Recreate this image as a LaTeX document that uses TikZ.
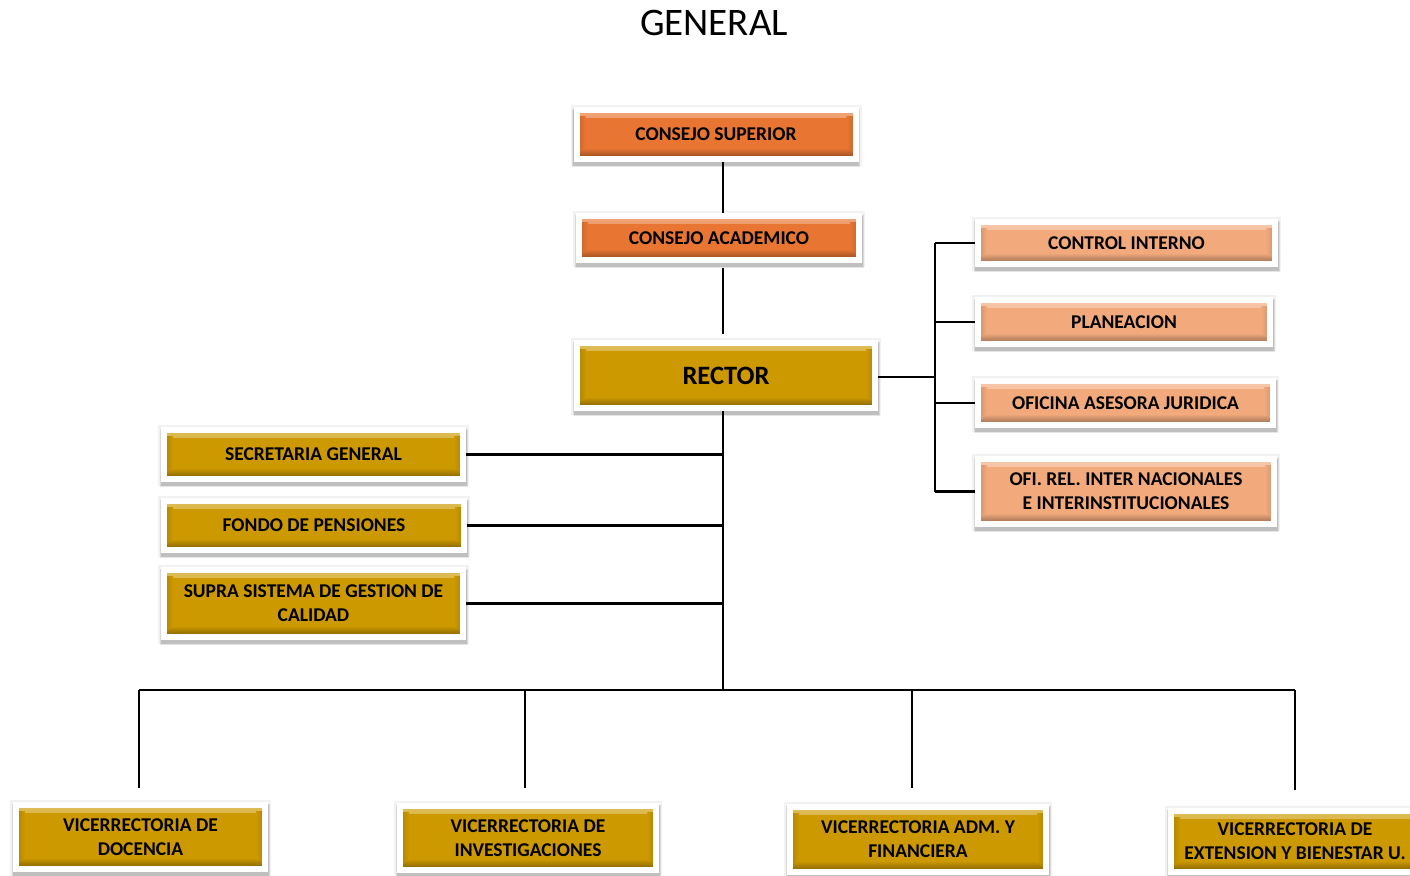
\documentclass[tikz,border=0pt]{standalone}
\usepackage{fontspec}
\setmainfont{Carlito}
\usetikzlibrary{shadows,backgrounds}
\definecolor{cOrange}{RGB}{232,118,50}
\definecolor{cSalmon}{RGB}{242,170,125}
\definecolor{cGold}{RGB}{204,153,0}
\tikzset{
  orgbox/.style={draw=white, line width=6pt, rectangle, align=center, fill=#1,
    font=\bfseries\fontsize{19.5}{24}\selectfont, text=black,
    general shadow={draw=black, fill=black, line width=12pt, shadow xshift=0pt, shadow yshift=-1pt, opacity=0.05},
    general shadow={draw=black, fill=black, line width=9pt, shadow xshift=0pt, shadow yshift=-3pt, opacity=0.10},
    general shadow={draw=black, fill=black, line width=7pt, shadow xshift=0pt, shadow yshift=-3pt, opacity=0.12},
    path picture={
      \shade[top color=#1!65!white, bottom color=#1] (path picture bounding box.north west) rectangle ([yshift=-7pt]path picture bounding box.north east);
      \shade[top color=#1, bottom color=#1!60!black] ([yshift=11pt]path picture bounding box.south west) rectangle (path picture bounding box.south east);
      \shade[left color=#1!85!black, right color=#1] ([yshift=-6pt]path picture bounding box.north west) rectangle ([xshift=9pt,yshift=10pt]path picture bounding box.south west);
      \shade[left color=#1, right color=#1!85!black] ([xshift=-9pt,yshift=-6pt]path picture bounding box.north east) rectangle ([yshift=10pt]path picture bounding box.south east);
    }},
  orangebox/.style={orgbox=cOrange},
  salmonbox/.style={orgbox=cSalmon},
  goldbox/.style={orgbox=cGold},
  link/.style={draw=black, line width=2.4pt}
}
\begin{document}
\begin{tikzpicture}[x=1pt,y=-1pt]
\useasboundingbox (0,0) rectangle (1410,875);
\clip (0,0) rectangle (1410,875);
\node[font=\fontsize{39}{42}\selectfont] (title) at (714,23) {GENERAL};

\node[orangebox, minimum width=279pt, minimum height=49pt] (cs) at (716,134.5) {CONSEJO SUPERIOR};
\node[orangebox, minimum width=280pt, minimum height=44pt] (ca) at (719,238) {CONSEJO ACADEMICO};
\node[goldbox, minimum width=298pt, minimum height=65pt, font=\bfseries\fontsize{26.5}{28}\selectfont] (rector) at (726,375.5) {RECTOR};

\node[salmonbox, minimum width=297pt, minimum height=42pt] (ci) at (1126.5,243) {CONTROL INTERNO};
\node[salmonbox, minimum width=292pt, minimum height=44pt] (pl) at (1124,322) {PLANEACION};
\node[salmonbox, minimum width=295pt, minimum height=44pt] (oaj) at (1125.5,403) {OFICINA ASESORA JURIDICA};
\node[salmonbox, minimum width=296pt, minimum height=65pt] (ofi) at (1126,491.5) {OFI. REL. INTER NACIONALES\\E INTERINSTITUCIONALES};

\node[goldbox, minimum width=299pt, minimum height=49pt] (sg) at (313.5,454.5) {SECRETARIA GENERAL};
\node[goldbox, minimum width=300pt, minimum height=49pt] (fp) at (314,525.5) {FONDO DE PENSIONES};
\node[goldbox, minimum width=299pt, minimum height=67pt] (supra) at (313.5,603.5) {SUPRA SISTEMA DE GESTION DE\\CALIDAD};

\node[goldbox, minimum width=249pt, minimum height=64pt] (vd) at (140.5,837) {VICERRECTORIA DE\\DOCENCIA};
\node[goldbox, minimum width=256pt, minimum height=64pt] (vi) at (528,838) {VICERRECTORIA DE\\INVESTIGACIONES};
\node[goldbox, minimum width=256pt, minimum height=65pt] (va) at (918,839.5) {VICERRECTORIA ADM. Y\\FINANCIERA};
\node[goldbox, minimum width=248pt, minimum height=61pt] (ve) at (1295,841.5) {VICERRECTORIA DE\\EXTENSION Y BIENESTAR U.};

\coordinate (trunk) at (723,690);
\coordinate (rb) at (935,377);
\coordinate (d1) at (139,690);
\coordinate (d2) at (525,690);
\coordinate (d3) at (912,690);
\coordinate (d4) at (1295,690);

\begin{scope}[on background layer]
  \draw[link] (cs.south -| trunk) -- (ca.north -| trunk);
  \draw[link] ([yshift=-5pt]ca.south -| trunk) -- ([yshift=6pt]rector.north -| trunk);
  \draw[link] (rector.south -| trunk) -- (trunk);
  \draw[link] (sg.east) -- (sg.east -| trunk);
  \draw[link] (fp.east) -- (fp.east -| trunk);
  \draw[link] (supra.east) -- (supra.east -| trunk);
  \draw[link] (rector.east |- rb) -- (rb);
  \draw[link] (ci.west -| rb) -- (ofi.west -| rb);
  \draw[link] (ci.west) -- (ci.west -| rb);
  \draw[link] (pl.west) -- (pl.west -| rb);
  \draw[link] (oaj.west) -- (oaj.west -| rb);
  \draw[link] (ofi.west) -- (ofi.west -| rb);
  \draw[link] (d1) -- (d4);
  \draw[link] (d1) -- ([yshift=14pt]vd.north -| d1);
  \draw[link] (d2) -- ([yshift=15pt]vi.north -| d2);
  \draw[link] (d3) -- ([yshift=16pt]va.north -| d3);
  \draw[link] (d4) -- ([yshift=18pt]ve.north -| d4);
\end{scope}
\end{tikzpicture}
\end{document}
